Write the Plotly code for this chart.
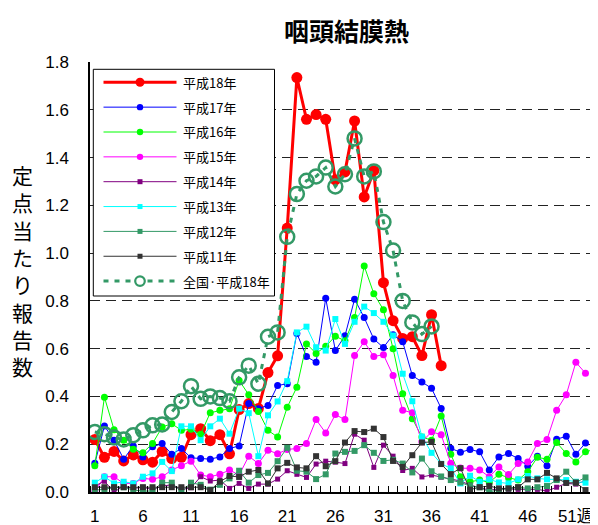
import plotly.graph_objects as go

weeks = list(range(1, 54))

def pad(vals):
    return vals + [None] * (53 - len(vals))

h18 = [0.22, 0.145, 0.17, 0.13, 0.155, 0.135, 0.125, 0.17, 0.14, 0.145,
       0.24, 0.265, 0.215, 0.24, 0.16, 0.345, 0.37, 0.35, 0.50, 0.57,
       1.105, 1.735, 1.56, 1.58, 1.56, 1.307, 1.34, 1.553, 1.235, 1.345,
       0.876, 0.717, 0.643, 0.65, 0.571, 0.742, 0.529]
h17 = [0.12, 0.276, 0.217, 0.1375, 0.193, 0.147, 0.189, 0.203, 0.158, 0.182,
       0.143, 0.14, 0.1375, 0.147, 0.182, 0.193, 0.37, 0.349, 0.3625, 0.446,
       0.453, 0.664, 0.567, 0.543, 0.811, 0.592, 0.654, 0.807, 0.73, 0.64,
       0.605, 0.658, 0.629, 0.4875, 0.46, 0.434, 0.35, 0.183, 0.166, 0.178,
       0.168, 0.092, 0.147, 0.161, 0.14, 0.108, 0.15, 0.11, 0.221, 0.233,
       0.158, 0.205]
h16 = [0.11, 0.397, 0.261, 0.217, 0.179, 0.164, 0.203, 0.272, 0.286, 0.258,
       0.2625, 0.242, 0.332, 0.342, 0.349, 0.467, 0.407, 0.3375, 0.258, 0.23,
       0.355, 0.439, 0.62, 0.58, 0.61, 0.652, 0.633, 0.73, 0.946, 0.83,
       0.7625, 0.6, 0.411, 0.307, 0.23, 0.217, 0.318, 0.158, 0.064, 0.043,
       0.05, 0.04, 0.074, 0.06, 0.05, 0.085, 0.145, 0.1375, 0.207, 0.161,
       0.126, 0.168, 0.179]
h15 = [0.0, 0.064, 0.064, 0.036, 0.036, 0.057, 0.053, 0.064, 0.092, 0.11,
       0.129, 0.071, 0.064, 0.074, 0.092, 0.071, 0.15, 0.119, 0.175, 0.16,
       0.178, 0.182, 0.203, 0.303, 0.247, 0.324, 0.303, 0.571, 0.629, 0.567,
       0.575, 0.4875, 0.342, 0.332, 0.21, 0.252, 0.24, 0.12, 0.1, 0.099,
       0.092, 0.064, 0.105, 0.073, 0.119, 0.126, 0.203, 0.22, 0.342, 0.407,
       0.543, 0.497]
h14 = [0.025, 0.045, 0.0, 0.025, 0.015, 0.02, 0.01, 0.025, 0.03, 0.01,
       0.018, 0.064, 0.046, 0.05, 0.015, 0.036, 0.015, 0.033, 0.033, 0.054,
       0.089, 0.074, 0.061, 0.117, 0.129, 0.125, 0.119, 0.242, 0.217, 0.103,
       0.196, 0.15, 0.09, 0.099, 0.063, 0.071, 0.062, 0.053, 0.046, 0.029,
       0.02, 0.008, 0.0125, 0.011, 0.011, 0.011, 0.011, 0.004, 0.02, 0.036,
       0.033, 0.047]
h13 = [0.039, 0.064, 0.036, 0.043, 0.036, 0.064, 0.078, 0.126, 0.0875, 0.275,
       0.275, 0.217, 0.275, 0.307, 0.244, 0.349, 0.33, 0.15, 0.321, 0.379,
       0.464, 0.668, 0.692, 0.606, 0.592, 0.724, 0.62, 0.7125, 0.776, 0.749,
       0.7125, 0.655, 0.495, 0.38, 0.232, 0.164, 0.118, 0.099, 0.036, 0.068,
       0.043, 0.053, 0.04, 0.036, 0.053, 0.067, 0.057, 0.053, 0.053, 0.05,
       0.043, 0.039]
h12 = [0.008, 0.011, 0.02, 0.02, 0.008, 0.004, 0.004, 0.039, 0.039, 0.0,
       0.039, 0.03, 0.01, 0.03, 0.057, 0.089, 0.039, 0.071, 0.08, 0.129,
       0.185, 0.089, 0.085, 0.054, 0.074, 0.161, 0.168, 0.172, 0.196, 0.164,
       0.13, 0.135, 0.119, 0.082, 0.14, 0.087, 0.065, 0.05, 0.04, 0.025,
       0.02, 0.0, 0.01, 0.015, 0.02, 0.015, 0.02, 0.025, 0.05, 0.085,
       0.04, 0.061]
h11 = [0.02, 0.02, 0.02, 0.02, 0.02, 0.02, 0.02, 0.02, 0.02, 0.02,
       0.02, 0.02, 0.008, 0.043, 0.067, 0.063, 0.085, 0.092, 0.036, 0.099,
       0.122, 0.103, 0.099, 0.15, 0.108, 0.129, 0.207, 0.255, 0.251, 0.265,
       0.23, 0.13, 0.105, 0.154, 0.207, 0.21, 0.117, 0.075, 0.1, 0.01,
       0.02, 0.025, 0.015, 0.015, 0.02, 0.053, 0.053, 0.08, 0.057, 0.038,
       0.039, 0.008]
national = [0.251, 0.242, 0.228, 0.22, 0.238, 0.258, 0.279, 0.283, 0.335, 0.38,
            0.443, 0.39, 0.40, 0.393, 0.38, 0.48, 0.529, 0.453, 0.65, 0.668,
            1.068, 1.247, 1.303, 1.321, 1.358, 1.279, 1.33, 1.48, 1.321, 1.342,
            1.13, 1.011, 0.8, 0.71, 0.661, 0.693]

tick_weeks = [1, 6, 11, 16, 21, 26, 31, 36, 41, 46, 51]
tick_labels = ["1", "6", "11", "16", "21", "26", "31", "36", "41", "46", "51週"]
y_ticks = [0, 0.2, 0.4, 0.6, 0.8, 1.0, 1.2, 1.4, 1.6, 1.8]

FONT = "Liberation Sans, Arial, Noto Sans CJK JP"
JP = "Noto Sans CJK JP, Liberation Sans"

# page-pixel layout (page has an 8px body margin)
PL, PR, PT, PB = 90.0, 598.0, 62.0, 492.0

def px(x):
    return (x - PL) / (PR - PL)

def py(y):
    return (PB - y) / (PB - PT)

series = [
    ("平成18年", h18, "#FF0000", 3, "circle", 11),
    ("平成17年", h17, "#0000FF", 1, "circle", 7),
    ("平成16年", h16, "#00FF00", 1, "circle", 7),
    ("平成15年", h15, "#FF00FF", 1, "circle", 7),
    ("平成14年", h14, "#800080", 1, "square", 5),
    ("平成13年", h13, "#00FFFF", 1, "square", 6),
    ("平成12年", h12, "#339966", 1, "square", 6),
    ("平成11年", h11, "#333333", 1, "square", 6),
]
NAT_NAME = "全国·平成18年"
NAT_COLOR = "#339966"

fig = go.Figure()
for name, vals, color, lw, sym, ms in series:
    fig.add_trace(go.Scatter(
        x=weeks, y=pad(vals), name=name, mode="lines+markers",
        line=dict(color=color, width=lw),
        marker=dict(color=color, symbol=sym, size=ms),
        showlegend=False,
    ))

fig.add_trace(go.Scatter(
    x=weeks, y=pad(national), name=NAT_NAME, mode="lines+markers",
    line=dict(color=NAT_COLOR, width=3, dash="5px,6px"),
    marker=dict(symbol="circle-open", size=14, color=NAT_COLOR,
                line=dict(width=2.5, color=NAT_COLOR)),
    showlegend=False,
))

# ---- hand-built legend (long sample lines like the reference) ----
shapes = []
annotations = []
LX0, LX1, LY0, LY1 = 93.3, 274.5, 69.3, 296.0
shapes.append(dict(type="rect", xref="paper", yref="paper",
                   x0=px(LX0), x1=px(LX1), y0=py(LY1), y1=py(LY0),
                   line=dict(color="black", width=1), fillcolor="white",
                   layer="above"))
row_y0, row_dy = 82.3, 24.85
line_x0, line_x1, mark_x, text_x = 103.5, 176.5, 140.0, 180.5
legend_entries = [(s[0], s[2], s[3], s[4], s[5]) for s in series]
legend_entries.append((NAT_NAME, NAT_COLOR, 3, "open", 0))
for i, (name, color, lw, sym, ms) in enumerate(legend_entries):
    yy = row_y0 + i * row_dy
    dash = "5px,6px" if sym == "open" else "solid"
    shapes.append(dict(type="line", xref="paper", yref="paper",
                       x0=px(line_x0), x1=px(line_x1), y0=py(yy), y1=py(yy),
                       line=dict(color=color, width=lw, dash=dash),
                       layer="above"))
    if sym == "circle":
        r = 4.5 if lw > 1 else 3.2
        shapes.append(dict(type="circle", xref="paper", yref="paper",
                           x0=px(mark_x - r), x1=px(mark_x + r),
                           y0=py(yy + r), y1=py(yy - r),
                           line=dict(color=color, width=0), fillcolor=color,
                           layer="above"))
    elif sym == "square":
        r = 2.5
        shapes.append(dict(type="rect", xref="paper", yref="paper",
                           x0=px(mark_x - r), x1=px(mark_x + r),
                           y0=py(yy + r), y1=py(yy - r),
                           line=dict(color=color, width=0), fillcolor=color,
                           layer="above"))
    else:
        r = 4.8
        shapes.append(dict(type="circle", xref="paper", yref="paper",
                           x0=px(mark_x - r), x1=px(mark_x + r),
                           y0=py(yy + r), y1=py(yy - r),
                           line=dict(color=color, width=2.2), fillcolor="white",
                           layer="above"))
    annotations.append(dict(text=name, xref="paper", yref="paper",
                            x=px(text_x), y=py(yy), xanchor="left",
                            yanchor="middle", showarrow=False,
                            font=dict(family=JP, size=13, color="black")))

annotations.append(dict(text="<b>咽頭結膜熱</b>", xref="paper", yref="paper",
                        x=px(346), y=py(30), xanchor="center", yanchor="middle",
                        showarrow=False,
                        font=dict(family=JP, size=25, color="black")))
annotations.append(dict(text="<br>".join(list("定点当たり報告数")),
                        xref="paper", yref="paper", x=px(22), y=py(270),
                        xanchor="center", yanchor="middle", showarrow=False,
                        font=dict(family=JP, size=21, color="black")))

fig.update_layout(
    width=590, height=517,
    margin=dict(l=82, r=0, t=54, b=33, autoexpand=False),
    paper_bgcolor="white", plot_bgcolor="white",
    font=dict(family=FONT, size=17, color="black"),
    showlegend=False,
    shapes=shapes, annotations=annotations,
)

fig.update_xaxes(
    range=[0.5, 53.3], tickmode="array", tickvals=tick_weeks,
    ticktext=tick_labels, ticks="", showgrid=False,
    showline=True, linecolor="black", linewidth=1.5, zeroline=False,
    tickfont=dict(family=FONT, size=17), ticklabelstandoff=8,
    automargin=False,
    minor=dict(tickmode="array", tickvals=[w + 0.5 for w in range(0, 54)],
               ticks="inside", ticklen=6, tickcolor="black", tickwidth=1,
               showgrid=False),
)
fig.update_yaxes(
    range=[0, 1.8], tickmode="array", tickvals=y_ticks,
    tickformat=".1f", ticks="", showgrid=True, gridcolor="#222222",
    griddash="10px,6px", gridwidth=1,
    showline=True, linecolor="black", linewidth=1.5, zeroline=False,
    tickfont=dict(family=FONT, size=17), ticklabelstandoff=16,
    automargin=False,
)

fig.write_html("out.html")
